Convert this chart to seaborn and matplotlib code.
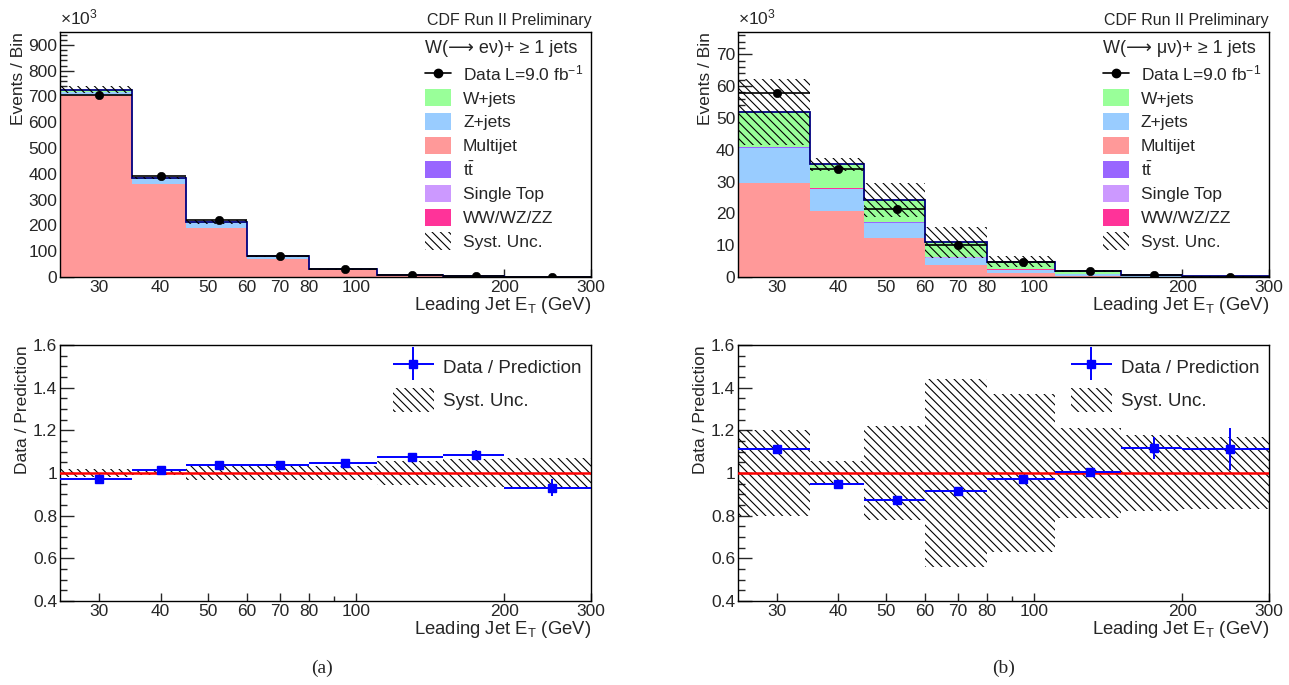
import numpy as np
import matplotlib
matplotlib.use("Agg")
import matplotlib.pyplot as plt
from matplotlib.patches import Patch
from matplotlib.lines import Line2D
from matplotlib.container import ErrorbarContainer
from matplotlib.legend_handler import HandlerErrorbar
from matplotlib.ticker import FixedLocator, MultipleLocator, FuncFormatter, NullFormatter
import seaborn as sns

# bins of leading jet E_T (GeV)
edges = [25, 35, 45, 60, 80, 110, 150, 200, 300]

# W -> e nu (events / bin, x10^3)
e_multijet = [705, 360, 190, 71, 25.5, 6.4, 1.8, 0.6]
e_zjets    = [12, 20, 20, 7, 2.5, 0.8, 0.3, 0.12]
e_ttbar    = [0.3, 0.3, 0.3, 0.2, 0.1, 0.05, 0.02, 0.01]
e_stop     = [0.2, 0.2, 0.2, 0.1, 0.05, 0.02, 0.01, 0.01]
e_diboson  = [0.3, 0.3, 0.3, 0.2, 0.1, 0.05, 0.02, 0.01]
e_wjets    = [9, 5, 4, 2, 1.2, 0.5, 0.2, 0.1]
e_data     = [707, 390, 222, 83, 30.6, 8.3, 2.5, 0.76]
e_ratio    = [0.973, 1.0125, 1.039, 1.039, 1.048, 1.077, 1.086, 0.93]
e_ratio_err = [0.004, 0.004, 0.005, 0.006, 0.008, 0.012, 0.02, 0.04]
e_syst     = [0.018, 0.01, 0.035, 0.035, 0.034, 0.058, 0.066, 0.072]

# W -> mu nu (events / bin, x10^3)
m_multijet = [29.5, 20.6, 12.4, 3.8, 1.2, 0.4, 0.12, 0.03]
m_zjets    = [11.2, 7.0, 4.7, 2.2, 1.0, 0.4, 0.13, 0.03]
m_ttbar    = [0.1, 0.1, 0.1, 0.1, 0.08, 0.05, 0.03, 0.01]
m_stop     = [0.05, 0.05, 0.05, 0.05, 0.03, 0.02, 0.01, 0.005]
m_diboson  = [0.1, 0.1, 0.1, 0.1, 0.08, 0.04, 0.02, 0.01]
m_wjets    = [11.0, 7.6, 6.9, 4.6, 2.4, 0.9, 0.35, 0.08]
m_data     = [57.7, 33.8, 21.3, 10.0, 4.7, 1.75, 0.67, 0.16]
m_ratio    = [1.112, 0.95, 0.874, 0.917, 0.974, 1.006, 1.117, 1.112]
m_ratio_err = [0.006, 0.007, 0.008, 0.01, 0.012, 0.015, 0.05, 0.1]
m_syst     = [0.2, 0.057, 0.22, 0.44, 0.37, 0.21, 0.18, 0.17]

# stacking order, bottom to top
proc_names  = ["Multijet", "Z+jets", r"t$\bar{\mathrm{t}}$", "Single Top", "WW/WZ/ZZ", "W+jets"]
proc_colors = ["#ff9999", "#99ccff", "#9966ff", "#cc99ff", "#ff3399", "#99ff99"]
# legend order, top to bottom
legend_order = [5, 1, 0, 2, 3, 4]

sns.set_theme(style="ticks")
plt.rcParams["font.family"] = ["Liberation Sans", "DejaVu Sans"]
plt.rcParams["mathtext.fontset"] = "custom"
plt.rcParams["mathtext.rm"] = "Liberation Sans"
plt.rcParams["mathtext.it"] = "Liberation Sans:italic"
plt.rcParams["hatch.linewidth"] = 0.8

FS = 12.5
HATCH = "\\\\\\\\"
edges_a = np.array(edges, dtype=float)
lo, hi = edges_a[:-1], edges_a[1:]
widths = hi - lo
centers = 0.5 * (lo + hi)

fig = plt.figure(figsize=(12.89, 6.85), dpi=100)


def style_xaxis(ax):
    ax.set_xscale("log")
    ax.set_xlim(25, 300)
    ax.xaxis.set_major_locator(FixedLocator([30, 40, 50, 60, 70, 80, 100, 200, 300]))
    ax.xaxis.set_major_formatter(FuncFormatter(lambda v, p: f"{v:g}"))
    ax.xaxis.set_minor_locator(FixedLocator([90]))
    ax.xaxis.set_minor_formatter(NullFormatter())
    ax.tick_params(axis="x", which="major", direction="in", length=6, width=1, labelsize=FS, pad=2)
    ax.tick_params(axis="x", which="minor", direction="in", length=3.5, width=1)
    ax.tick_params(axis="y", which="major", direction="in", length=10, width=1, labelsize=FS, pad=2)
    ax.tick_params(axis="y", which="minor", direction="in", length=5, width=1)
    for s in ax.spines.values():
        s.set_linewidth(1.0)
        s.set_color("black")
    ax.set_xlabel(r"Leading Jet E$_\mathrm{T}$ (GeV)", fontsize=FS + 0.8, loc="right", labelpad=0)


def top_panel(ax, comps, data, syst, ymax, major, minor, header):
    bottom = np.zeros(len(lo))
    for vals, col in zip(comps, proc_colors):
        ax.bar(lo, vals, width=widths, bottom=bottom, align="edge", color=col, linewidth=0)
        bottom = bottom + np.array(vals)
    total = bottom
    ax.stairs(total, edges_a, color="#000080", linewidth=1.3)
    s = np.array(syst)
    ax.bar(lo, 2 * s * total, width=widths, bottom=total * (1 - s), align="edge",
           fill=False, hatch=HATCH, edgecolor="black", linewidth=0)
    ax.errorbar(centers, data, xerr=[centers - lo, hi - centers], fmt="none",
                ecolor="black", elinewidth=1.2)
    sns.scatterplot(x=centers, y=data, ax=ax, color="black", s=36, edgecolor="black",
                    zorder=5, legend=False)
    ax.set_ylim(0, ymax)
    ax.yaxis.set_major_locator(MultipleLocator(major))
    ax.yaxis.set_minor_locator(MultipleLocator(minor))
    style_xaxis(ax)
    ax.set_ylabel("Events / Bin", fontsize=FS, loc="top", labelpad=2)
    ax.text(0.0, 1.02, r"$\times$10$^{3}$", transform=ax.transAxes, fontsize=FS, ha="left", va="bottom")
    ax.text(1.0, 1.015, "CDF Run II Preliminary", transform=ax.transAxes, fontsize=FS - 1,
            ha="right", va="bottom")

    handles = [Line2D([], [], color="black", marker="o", ms=6, lw=1.2)]
    labels = [r"Data L=9.0 fb$^{-1}$"]
    for i in legend_order:
        handles.append(Patch(facecolor=proc_colors[i], edgecolor="none"))
        labels.append(proc_names[i])
    handles.append(Patch(facecolor="none", edgecolor="black", hatch=HATCH, linewidth=0))
    labels.append("Syst. Unc.")
    ax.legend(handles, labels, loc="upper right", bbox_to_anchor=(1.0, 1.0), frameon=False,
              fontsize=FS, title=header, title_fontsize=FS + 0.5, alignment="left",
              handlelength=1.5, handleheight=1.15, handletextpad=0.7, labelspacing=0.36,
              borderaxespad=0.25, borderpad=0.2)


def ratio_panel(ax, ratio, err, syst):
    s = np.array(syst)
    ax.bar(lo, 2 * s, width=widths, bottom=1 - s, align="edge", fill=False,
           hatch=HATCH, edgecolor="black", linewidth=0)
    ax.axhline(1.0, color="red", linewidth=1.8, zorder=3)
    eb = ax.errorbar(centers, ratio, xerr=[centers - lo, hi - centers], yerr=err, fmt="s",
                     color="blue", ms=6, elinewidth=1.4, capsize=0, zorder=5)
    ax.set_ylim(0.4, 1.6)
    ax.yaxis.set_major_locator(MultipleLocator(0.2))
    ax.yaxis.set_minor_locator(MultipleLocator(0.05))
    ax.yaxis.set_major_formatter(FuncFormatter(lambda v, p: f"{v:.1f}".replace("1.0", "1")))
    style_xaxis(ax)
    ax.set_ylabel("Data / Prediction", fontsize=FS, loc="top", labelpad=2)
    handles = [eb, Patch(facecolor="none", edgecolor="black", hatch=HATCH, linewidth=0)]
    ax.legend(handles, ["Data / Prediction", "Syst. Unc."], loc="upper right", frameon=False,
              fontsize=FS + 1, handlelength=2.2, handleheight=1.6, handletextpad=0.5,
              labelspacing=0.5, borderaxespad=0.3, borderpad=0.2,
              handler_map={ErrorbarContainer: HandlerErrorbar(xerr_size=1.1, yerr_size=0.9)})


ax1 = fig.add_axes([0.0466, 0.5956, 0.4120, 0.3577])
ax2 = fig.add_axes([0.5725, 0.5956, 0.4120, 0.3577])
ax3 = fig.add_axes([0.0466, 0.1226, 0.4120, 0.3737])
ax4 = fig.add_axes([0.5725, 0.1226, 0.4120, 0.3737])

top_panel(ax1, [e_multijet, e_zjets, e_ttbar, e_stop, e_diboson, e_wjets], e_data, e_syst,
          950, 100, 20, "W(⟶ eν)+ ≥ 1 jets")
top_panel(ax2, [m_multijet, m_zjets, m_ttbar, m_stop, m_diboson, m_wjets], m_data, m_syst,
          77, 10, 2, "W(⟶ μν)+ ≥ 1 jets")
ratio_panel(ax3, e_ratio, e_ratio_err, e_syst)
ratio_panel(ax4, m_ratio, m_ratio_err, m_syst)

fig.text(0.2498, 0.012, "(a)", ha="center", va="bottom", fontsize=14, family=["Liberation Serif", "DejaVu Serif"])
fig.text(0.7785, 0.012, "(b)", ha="center", va="bottom", fontsize=14, family=["Liberation Serif", "DejaVu Serif"])

fig.savefig("out.png", dpi=100)
